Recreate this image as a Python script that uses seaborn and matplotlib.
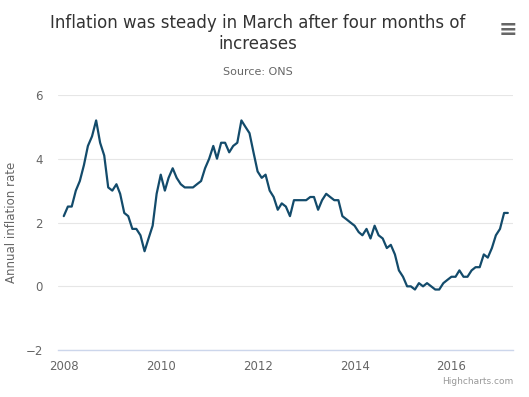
import matplotlib
matplotlib.use("Agg")
import matplotlib.pyplot as plt
import matplotlib.dates as mdates
import seaborn as sns
import pandas as pd

# monthly CPI annual rate, Jan 2008 - Mar 2017
rate_2008 = [2.2, 2.5, 2.5, 3.0, 3.3, 3.8, 4.4, 4.7, 5.2, 4.5, 4.1, 3.1]
rate_2009 = [3.0, 3.2, 2.9, 2.3, 2.2, 1.8, 1.8, 1.6, 1.1, 1.5, 1.9, 2.9]
rate_2010 = [3.5, 3.0, 3.4, 3.7, 3.4, 3.2, 3.1, 3.1, 3.1, 3.2, 3.3, 3.7]
rate_2011 = [4.0, 4.4, 4.0, 4.5, 4.5, 4.2, 4.4, 4.5, 5.2, 5.0, 4.8, 4.2]
rate_2012 = [3.6, 3.4, 3.5, 3.0, 2.8, 2.4, 2.6, 2.5, 2.2, 2.7, 2.7, 2.7]
rate_2013 = [2.7, 2.8, 2.8, 2.4, 2.7, 2.9, 2.8, 2.7, 2.7, 2.2, 2.1, 2.0]
rate_2014 = [1.9, 1.7, 1.6, 1.8, 1.5, 1.9, 1.6, 1.5, 1.2, 1.3, 1.0, 0.5]
rate_2015 = [0.3, 0.0, 0.0, -0.1, 0.1, 0.0, 0.1, 0.0, -0.1, -0.1, 0.1, 0.2]
rate_2016 = [0.3, 0.3, 0.5, 0.3, 0.3, 0.5, 0.6, 0.6, 1.0, 0.9, 1.2, 1.6]
rate_2017 = [1.8, 2.3, 2.3]

rates = (rate_2008 + rate_2009 + rate_2010 + rate_2011 + rate_2012
         + rate_2013 + rate_2014 + rate_2015 + rate_2016 + rate_2017)
months = pd.date_range("2008-01-01", periods=len(rates), freq="MS")
df = pd.DataFrame({"date": months, "rate": rates})

y_ticks = [-2, 0, 2, 4, 6]
x_tick_years = [2008, 2010, 2012, 2014, 2016]

sns.set_style("white")
plt.rcParams['font.family'] = ['DejaVu Sans']

fig = plt.figure(figsize=(5.29, 3.97), dpi=100)
ax = fig.add_axes([0.11, 0.118, 0.86, 0.643])

sns.lineplot(data=df, x="date", y="rate", color="#134b6b", linewidth=1.6, ax=ax)

ax.set_ylim(-2, 6)
ax.set_yticks(y_ticks)
ax.set_yticklabels(["\u22122" if t < 0 else str(t) for t in y_ticks])
ax.set_xlim(pd.Timestamp("2007-11-20"), pd.Timestamp("2017-04-10"))
ax.set_xticks([pd.Timestamp(f"{y}-01-01") for y in x_tick_years])
ax.xaxis.set_major_formatter(mdates.DateFormatter("%Y"))

ax.grid(axis="y", color="#e6e6e6", linewidth=0.8)
ax.set_axisbelow(True)
for s in ["top", "right", "left"]:
    ax.spines[s].set_visible(False)
ax.spines["bottom"].set_color("#ccd6eb")
ax.spines["bottom"].set_linewidth(1)
ax.tick_params(axis="x", colors="#ccd6eb", labelcolor="#666666", labelsize=8.5,
               length=6, direction="out", pad=1)
ax.tick_params(axis="y", length=0, labelcolor="#666666", labelsize=8.5, pad=11)

ax.set_xlabel("")
ax.set_ylabel("Annual inflation rate", color="#666666", fontsize=8.5)
ax.yaxis.set_label_coords(-0.088, 0.5)

fig.text(0.487, 0.916, "Inflation was steady in March after four months of\nincreases",
         ha="center", va="center", fontsize=12, color="#333333", linespacing=1.25)
fig.text(0.487, 0.818, "Source: ONS", ha="center", va="center", fontsize=8, color="#666666")
fig.text(0.97, 0.04, "Highcharts.com", ha="right", va="center", fontsize=6.5, color="#999999")
fig.text(0.96, 0.924, "\u2261", ha="center", va="center", fontsize=16,
         fontweight="bold", color="#666666")

fig.savefig("out.png", dpi=100)
